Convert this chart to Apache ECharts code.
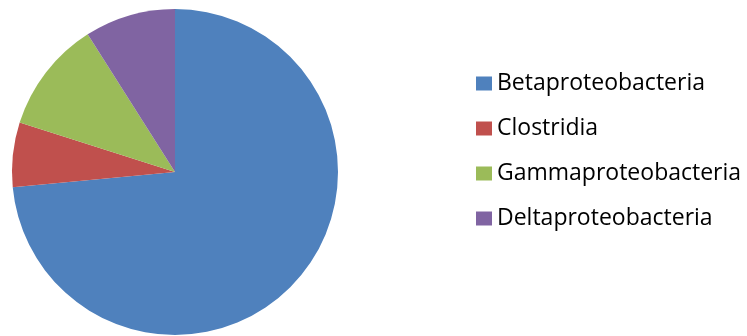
<!DOCTYPE html>
<html>
<head>
<meta charset="utf-8">
<script src="https://cdn.jsdelivr.net/npm/echarts@6/dist/echarts.min.js"></script>
<style>
  html, body { margin: 0; padding: 0; background: #fff; }
  #chart { width: 747px; height: 336px; }
</style>
</head>
<body>
<div id="chart"></div>
<script>
// Bacterial class shares (percent)
const classes = ['Betaproteobacteria', 'Clostridia', 'Gammaproteobacteria', 'Deltaproteobacteria'];
const shares = [73.5, 6.4, 11.1, 9.0];
const colors = ['#4F81BD', '#C0504D', '#9BBB59', '#8064A2'];

const chart = echarts.init(document.getElementById('chart'), null, { renderer: 'canvas' });

chart.setOption({
  animation: false,
  color: colors,
  legend: {
    orient: 'vertical',
    left: 476,
    top: 72,
    padding: 0,
    icon: 'rect',
    itemWidth: 16,
    itemHeight: 14,
    itemGap: 22,
    textStyle: {
      fontFamily: 'Open Sans',
      fontSize: 23,
      lineHeight: 22,
      color: '#000',
      padding: [0, 0, 0, 0]
    },
    data: classes
  },
  series: [{
    type: 'pie',
    center: [175, 172],
    radius: 163,
    startAngle: 90,
    clockwise: true,
    label: { show: false },
    labelLine: { show: false },
    itemStyle: { borderWidth: 0 },
    emphasis: { disabled: true },
    data: classes.map((name, i) => ({ name, value: shares[i] }))
  }]
});
</script>
</body>
</html>
